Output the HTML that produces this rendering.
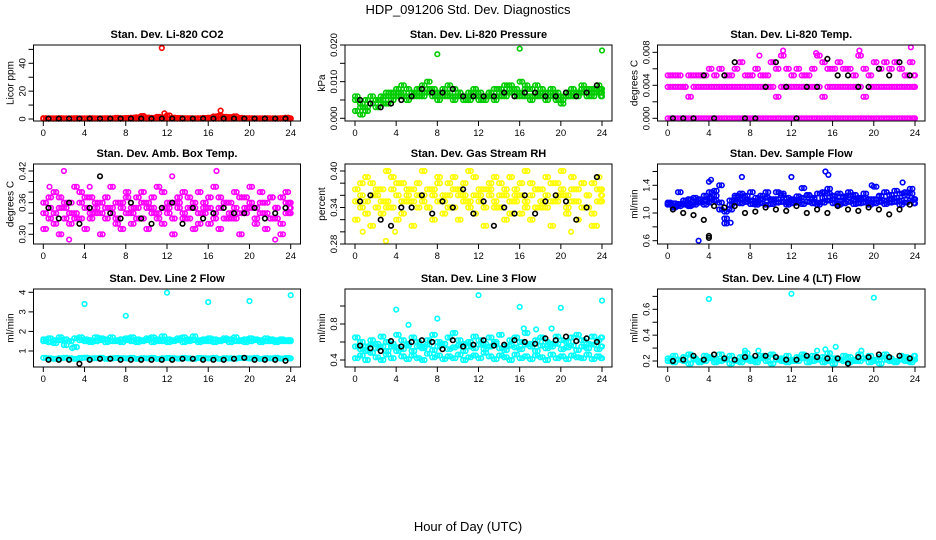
<!DOCTYPE html>
<html><head><meta charset="utf-8"><title>HDP_091206 Std. Dev. Diagnostics</title>
<style>
html,body{margin:0;padding:0;background:#fff;}
svg{display:block;font-family:"Liberation Sans",Arial,sans-serif;}
</style></head>
<body>
<svg id="chart" width="936" height="540" viewBox="0 0 936 540">
<text x="468" y="14" text-anchor="middle" font-size="13">HDP_091206  Std. Dev. Diagnostics</text>
<text x="468" y="531" text-anchor="middle" font-size="13">Hour of Day (UTC)</text>
</svg>
<script>
// ---- shared x categories ----
const hoursHalf = [0,0.5,1,1.5,2,2.5,3,3.5,4,4.5,5,5.5,6,6.5,7,7.5,8,8.5,9,9.5,10,10.5,11,11.5,12,12.5,13,13.5,14,14.5,15,15.5,16,16.5,17,17.5,18,18.5,19,19.5,20,20.5,21,21.5,22,22.5,23,23.5,24];
const hoursQuarter = [0.25,0.75,1.25,1.75,2.25,2.75,3.25,3.75,4.25,4.75,5.25,5.75,6.25,6.75,7.25,7.75,8.25,8.75,9.25,9.75,10.25,10.75,11.25,11.75,12.25,12.75,13.25,13.75,14.25,14.75,15.25,15.75,16.25,16.75,17.25,17.75,18.25,18.75,19.25,19.75,20.25,20.75,21.25,21.75,22.25,22.75,23.25,23.75,23.9];
const hoursBlack = [0.5,1.5,2.5,3.5,4.5,5.5,6.5,7.5,8.5,9.5,10.5,11.5,12.5,13.5,14.5,15.5,16.5,17.5,18.5,19.5,20.5,21.5,22.5,23.5];
const xTickLabels = ["0","4","8","12","16","20","24"];
const xTickValues = [0,4,8,12,16,20,24];

// ---- panel 1: CO2 ----
const co2A = [0.6,0.5,0.5,0.6,0.5,0.5,0.6,0.5,0.5,0.6,0.5,0.5,0.6,0.5,0.8,0.6,0.7,0.9,1.2,2.1,1.0,0.8,1.5,1.2,2.5,0.9,0.7,0.6,0.6,0.5,0.6,0.7,0.9,1.8,2.2,1.6,1.4,1.9,0.8,0.6,0.6,0.5,0.5,0.6,0.5,0.5,0.6,0.9,0.5];
const co2B = [0.2,0.3,0.2,0.2,0.3,0.2,0.2,0.3,0.2,0.2,0.3,0.2,0.2,0.3,0.2,0.2,0.3,0.2,0.2,0.3,0.2,0.2,0.3,0.2,0.2,0.3,0.2,0.2,0.3,0.2,0.2,0.3,0.2,0.2,0.3,0.2,0.2,0.3,0.2,0.2,0.3,0.2,0.2,0.3,0.2,0.2,0.3,0.2,0.2];
const co2OutX = [11.5,11.75,17.2,9.7];
const co2OutY = [51,4,6,2];
const co2Black = [0.3,0.3,0.3,0.3,0.3,0.3,0.3,0.3,0.3,0.3,0.3,0.3,0.3,0.3,0.3,0.3,0.3,0.3,0.3,0.3,0.3,0.3,0.3,0.3];

// ---- panel 2: pressure ----
const presA = [0.005,0.003,0.002,0.004,0.005,0.004,0.006,0.007,0.008,0.009,0.008,0.007,0.008,0.009,0.010,0.008,0.007,0.008,0.009,0.008,0.007,0.006,0.007,0.008,0.007,0.006,0.007,0.008,0.008,0.009,0.009,0.008,0.010,0.009,0.008,0.009,0.008,0.007,0.008,0.007,0.006,0.007,0.008,0.007,0.009,0.008,0.008,0.009,0.008];
const presB = [0.002,0.001,0.003,0.004,0.003,0.005,0.004,0.005,0.006,0.006,0.005,0.006,0.006,0.006,0.007,0.006,0.005,0.006,0.006,0.005,0.006,0.005,0.005,0.006,0.005,0.005,0.006,0.005,0.006,0.006,0.007,0.006,0.006,0.006,0.005,0.006,0.006,0.005,0.006,0.005,0.004,0.006,0.006,0.006,0.007,0.006,0.006,0.007,0.006];
const presC = [0.006,0.004,0.005,0.006,0.005,0.006,0.007,0.006,0.007,0.007,0.006,0.007,0.007,0.007,0.008,0.007,0.006,0.007,0.007,0.006,0.007,0.006,0.006,0.007,0.006,0.006,0.007,0.006,0.007,0.007,0.008,0.007,0.007,0.008,0.006,0.007,0.007,0.006,0.007,0.006,0.005,0.007,0.007,0.007,0.008,0.007,0.007,0.008,0.007];
const presOutX = [8,16,24];
const presOutY = [0.0175,0.019,0.0185];
const presBlack = [0.005,0.004,0.003,0.004,0.005,0.006,0.008,0.007,0.007,0.008,0.006,0.006,0.006,0.006,0.007,0.006,0.007,0.007,0.006,0.006,0.007,0.006,0.007,0.009];

// ---- panel 3: Li-820 temp ----
const tempA = [0,0,0,0,0,0,0,0,0,0,0,0,0,0,0,0,0,0,0,0,0,0,0,0,0,0,0,0,0,0,0,0,0,0,0,0,0,0,0,0,0,0,0,0,0,0,0,0,0];
const tempB = [0.0038,0.0038,0.0038,0.0038,0.0026,0.0038,0.0038,0.0038,0.0038,0.0038,0.0038,0.0038,0.0038,0.0038,0.0038,0.0038,0.0038,0.0038,0.0038,0.0038,0.0038,0.0026,0.0038,0.0038,0.0038,0.0038,0.0038,0.0038,0.0038,0.0038,0.0026,0.0038,0.0038,0.0038,0.0038,0.0038,0.0038,0.0038,0.0026,0.0038,0.0038,0.0038,0.0038,0.0038,0.0038,0.0038,0.0038,0.0038,0.0038];
const tempC = [0.0052,0.0052,0.0052,0.0038,0.0052,0.0052,0.0052,0.0052,0.0060,0.0052,0.0060,0.0052,0.0052,0.0060,0.0068,0.0052,0.0052,0.0060,0.0052,0.0052,0.0068,0.0060,0.0076,0.0060,0.0052,0.0060,0.0052,0.0052,0.0060,0.0076,0.0068,0.0060,0.0060,0.0068,0.0060,0.0060,0.0052,0.0076,0.0060,0.0052,0.0068,0.0060,0.0068,0.0060,0.0068,0.0060,0.0052,0.0068,0.0052];
const tempOutX = [11.2,18.6,23.6,8.9,14.4];
const tempOutY = [0.0082,0.0082,0.0086,0.0076,0.0079];
const tempBlack = [0,0,0,0.0052,0,0.0052,0.0068,0,0,0.0038,0.0068,0.0038,0,0.0038,0.0038,0.0072,0.0052,0.0052,0.0038,0.0038,0.0060,0.0052,0.0068,0.0052];

// ---- panel 4: amb box temp ----
const ambA = [0.34,0.37,0.32,0.35,0.33,0.36,0.34,0.38,0.35,0.33,0.36,0.34,0.37,0.35,0.32,0.36,0.34,0.35,0.37,0.33,0.36,0.35,0.34,0.38,0.35,0.33,0.36,0.34,0.37,0.35,0.32,0.36,0.35,0.34,0.37,0.33,0.36,0.35,0.34,0.37,0.35,0.33,0.36,0.34,0.37,0.35,0.32,0.36,0.35];
const ambB = [0.31,0.35,0.38,0.30,0.36,0.32,0.39,0.33,0.31,0.37,0.34,0.30,0.35,0.39,0.33,0.31,0.37,0.32,0.35,0.38,0.31,0.34,0.39,0.32,0.36,0.30,0.37,0.33,0.35,0.31,0.38,0.34,0.32,0.39,0.31,0.36,0.33,0.38,0.30,0.35,0.39,0.32,0.34,0.31,0.37,0.33,0.30,0.38,0.34];
const ambC = [0.36,0.33,0.34,0.37,0.35,0.34,0.33,0.36,0.37,0.34,0.35,0.36,0.33,0.34,0.36,0.35,0.38,0.34,0.33,0.36,0.35,0.37,0.33,0.35,0.34,0.36,0.35,0.38,0.33,0.36,0.34,0.35,0.37,0.33,0.35,0.36,0.34,0.33,0.37,0.34,0.36,0.35,0.38,0.36,0.33,0.35,0.37,0.34,0.36];
const ambOutX = [2,12.5,16.8,22.5,2.5,0.6,4.5];
const ambOutY = [0.42,0.41,0.42,0.29,0.29,0.39,0.39];
const ambBlack = [0.35,0.33,0.36,0.32,0.35,0.41,0.34,0.33,0.36,0.33,0.32,0.35,0.36,0.32,0.35,0.33,0.34,0.35,0.34,0.34,0.35,0.33,0.34,0.35];

// ---- panel 5: gas stream RH ----
const rhA = [0.35,0.38,0.33,0.36,0.34,0.37,0.35,0.39,0.36,0.33,0.37,0.35,0.38,0.36,0.34,0.37,0.35,0.36,0.38,0.34,0.37,0.36,0.35,0.39,0.36,0.34,0.37,0.35,0.38,0.36,0.33,0.37,0.36,0.35,0.38,0.34,0.37,0.36,0.35,0.38,0.36,0.34,0.37,0.35,0.38,0.36,0.33,0.37,0.36];
const rhB = [0.32,0.36,0.39,0.31,0.37,0.33,0.40,0.34,0.32,0.38,0.35,0.31,0.36,0.40,0.34,0.32,0.38,0.33,0.36,0.39,0.32,0.35,0.40,0.33,0.37,0.31,0.38,0.34,0.36,0.32,0.39,0.35,0.33,0.40,0.32,0.37,0.34,0.39,0.31,0.36,0.40,0.33,0.35,0.32,0.38,0.34,0.31,0.39,0.35];
const rhC = [0.37,0.34,0.35,0.38,0.36,0.35,0.34,0.37,0.38,0.35,0.36,0.37,0.34,0.35,0.37,0.36,0.39,0.35,0.34,0.37,0.36,0.38,0.34,0.36,0.35,0.37,0.36,0.39,0.34,0.37,0.35,0.36,0.38,0.34,0.36,0.37,0.35,0.34,0.38,0.35,0.37,0.36,0.39,0.37,0.34,0.36,0.38,0.35,0.37];
const rhOutX = [0.75,1.5,3,21,23.5,3.9];
const rhOutY = [0.30,0.31,0.285,0.30,0.31,0.30];
const rhBlack = [0.35,0.36,0.32,0.31,0.34,0.34,0.36,0.33,0.35,0.34,0.37,0.33,0.35,0.31,0.34,0.33,0.36,0.33,0.35,0.36,0.35,0.32,0.34,0.39];

// ---- panel 6: sample flow ----
const sfA = [1.12,1.10,1.13,1.14,1.12,1.15,1.20,1.18,1.22,1.25,1.15,0.92,1.18,1.22,1.20,1.25,1.18,1.15,1.20,1.22,1.18,1.20,1.25,1.15,1.20,1.18,1.22,1.25,1.20,1.15,1.22,1.28,1.20,1.18,1.22,1.25,1.18,1.20,1.22,1.15,1.20,1.25,1.18,1.20,1.22,1.18,1.25,1.28,1.20];
const sfB = [1.15,1.08,1.10,1.12,1.10,1.12,1.15,1.12,1.15,1.18,1.05,1.02,1.12,1.15,1.14,1.16,1.13,1.12,1.14,1.12,1.13,1.15,1.16,1.12,1.14,1.15,1.13,1.16,1.14,1.12,1.15,1.18,1.14,1.12,1.14,1.16,1.13,1.14,1.15,1.12,1.14,1.16,1.13,1.15,1.16,1.12,1.15,1.18,1.14];
const sfC = [1.13,1.14,1.30,1.18,1.20,1.22,1.15,1.25,1.30,1.32,1.40,0.85,1.05,1.25,1.28,1.20,1.30,1.22,1.25,1.30,1.20,1.30,1.28,1.22,1.18,1.24,1.36,1.26,1.22,1.28,1.30,1.35,1.25,1.28,1.24,1.30,1.26,1.22,1.28,1.20,1.38,1.24,1.30,1.26,1.32,1.28,1.30,1.35,1.20];
const sfOutX = [3,4,4.2,6.1,7.2,15.3,15.6,12,19.8,22.8];
const sfOutY = [0.6,1.45,1.48,0.86,1.52,1.6,1.55,1.52,1.4,1.44];
const sfBlack = [1.05,1.00,0.97,0.90,1.10,1.08,1.10,1.00,1.02,1.08,1.05,1.03,1.10,1.00,1.05,1.00,1.10,1.05,1.03,1.08,1.05,0.98,1.05,1.12];
const sfBlackOutX = [4,4];
const sfBlackOutY = [0.64,0.67];

// ---- panel 7: line 2 flow ----
const l2A = [1.6,1.65,1.55,1.7,1.6,1.5,1.65,1.7,1.6,1.55,1.7,1.65,1.6,1.7,1.55,1.6,1.65,1.7,1.6,1.55,1.65,1.7,1.6,1.75,1.6,1.55,1.65,1.7,1.6,1.75,1.55,1.6,1.65,1.6,1.55,1.65,1.6,1.7,1.55,1.6,1.65,1.6,1.55,1.65,1.6,1.55,1.6,1.5,1.55];
const l2B = [1.5,1.45,1.4,1.55,1.3,1.5,1.2,1.55,1.5,1.45,1.5,1.55,1.45,1.5,1.5,1.45,1.55,1.5,1.45,1.5,1.55,1.45,1.5,1.5,1.45,1.5,1.55,1.45,1.5,1.55,1.45,1.5,1.5,1.45,1.5,1.55,1.45,1.5,1.5,1.45,1.5,1.55,1.45,1.5,1.5,1.45,1.5,1.55,1.5];
const l2C = [0.65,0.62,0.6,0.63,0.65,0.62,0.6,0.64,0.66,0.62,0.63,0.65,0.6,0.62,0.64,0.63,0.62,0.65,0.6,0.63,0.62,0.65,0.6,0.62,0.64,0.63,0.61,0.65,0.62,0.6,0.64,0.63,0.62,0.65,0.6,0.63,0.62,0.61,0.64,0.63,0.62,0.65,0.6,0.63,0.62,0.65,0.61,0.64,0.62];
const l2OutX = [4,8,12,16,20,24,2.8];
const l2OutY = [3.4,2.8,3.98,3.5,3.55,3.85,1.15];
const l2Black = [0.55,0.55,0.55,0.35,0.55,0.6,0.6,0.55,0.55,0.55,0.55,0.55,0.55,0.6,0.6,0.55,0.55,0.55,0.6,0.65,0.55,0.55,0.55,0.5];

// ---- panel 8: line 3 flow ----
const l3A = [0.65,0.6,0.55,0.62,0.58,0.66,0.6,0.55,0.68,0.62,0.58,0.65,0.6,0.55,0.62,0.68,0.6,0.58,0.65,0.7,0.62,0.58,0.6,0.66,0.62,0.58,0.65,0.6,0.68,0.55,0.62,0.65,0.6,0.7,0.58,0.62,0.65,0.6,0.58,0.66,0.62,0.6,0.65,0.68,0.62,0.58,0.66,0.62,0.65];
const l3B = [0.42,0.45,0.4,0.48,0.43,0.4,0.46,0.42,0.5,0.44,0.41,0.45,0.42,0.4,0.47,0.43,0.45,0.41,0.44,0.42,0.46,0.4,0.43,0.45,0.42,0.48,0.44,0.41,0.45,0.43,0.4,0.46,0.42,0.44,0.41,0.45,0.43,0.4,0.46,0.42,0.44,0.41,0.45,0.43,0.42,0.46,0.41,0.44,0.42];
const l3C = [0.55,0.52,0.5,0.57,0.53,0.55,0.5,0.58,0.54,0.52,0.56,0.5,0.55,0.53,0.57,0.51,0.55,0.58,0.52,0.54,0.56,0.5,0.55,0.53,0.57,0.52,0.55,0.58,0.53,0.51,0.56,0.54,0.52,0.57,0.55,0.5,0.56,0.53,0.55,0.58,0.52,0.54,0.56,0.51,0.55,0.53,0.57,0.52,0.55];
const l3OutX = [4,5.2,8,12,16,20,24,16.4,17.6,19.1];
const l3OutY = [0.96,0.79,0.86,1.12,0.99,0.98,1.06,0.75,0.74,0.75];
const l3Black = [0.56,0.53,0.5,0.61,0.55,0.6,0.62,0.6,0.52,0.62,0.55,0.57,0.62,0.56,0.57,0.62,0.6,0.58,0.64,0.62,0.66,0.61,0.64,0.6];

// ---- panel 9: line 4 flow ----
const l4A = [0.22,0.24,0.21,0.23,0.25,0.22,0.2,0.24,0.23,0.21,0.25,0.22,0.24,0.2,0.23,0.26,0.22,0.21,0.24,0.23,0.25,0.21,0.22,0.24,0.2,0.23,0.25,0.22,0.24,0.21,0.23,0.26,0.22,0.21,0.24,0.23,0.2,0.25,0.22,0.24,0.21,0.23,0.25,0.22,0.2,0.24,0.23,0.21,0.24];
const l4B = [0.2,0.19,0.21,0.2,0.18,0.21,0.19,0.2,0.22,0.19,0.2,0.21,0.18,0.2,0.19,0.21,0.2,0.19,0.22,0.2,0.18,0.21,0.2,0.19,0.21,0.2,0.22,0.19,0.2,0.21,0.19,0.2,0.18,0.21,0.2,0.19,0.21,0.2,0.22,0.19,0.2,0.18,0.21,0.2,0.19,0.21,0.2,0.19,0.21];
const l4OutX = [4,12,20,14.5,15.3,16.3,7.5,8.8,18.8];
const l4OutY = [0.68,0.72,0.69,0.28,0.29,0.31,0.28,0.28,0.28];
const l4Black = [0.2,0.21,0.24,0.21,0.25,0.22,0.21,0.23,0.24,0.24,0.23,0.21,0.21,0.24,0.23,0.22,0.22,0.18,0.23,0.23,0.25,0.23,0.24,0.22];

// ---- layout (pixels) ----
const cols = [{l:33.5,r:300.5,x0:43.3,x24:290.7},{l:345,r:612,x0:355,x24:602},{l:657.5,r:925,x0:667.7,x24:915}];
const rows = [{t:45,b:121},{t:164,b:244},{t:289,b:367}];
const NS = 'http://www.w3.org/2000/svg';
const svg = document.getElementById('chart');

const panels = [
 {name:'co2',title:'Stan. Dev. Li-820 CO2',ylab:'Licor ppm',c:0,r:0,color:'#ff0000',cal:[0,119,40,63.3],
  ticks:[0,10,20,30,40,50],labels:{0:'0',20:'20',40:'40'},
  series:[[hoursHalf,co2B],[hoursQuarter,co2B],[hoursHalf,co2A],[hoursQuarter,co2A],[co2OutX,co2OutY]],black:[[hoursBlack,co2Black]]},
 {name:'pressure',title:'Stan. Dev. Li-820 Pressure',ylab:'kPa',c:1,r:0,color:'#00cc00',cal:[0,118.3,0.02,45],
  ticks:[0,0.005,0.01,0.015,0.02],labels:{0:'0.000',0.01:'0.010',0.02:'0.020'},
  series:[[hoursHalf,presA],[hoursQuarter,presC],[hoursHalf,presB],[hoursQuarter,presB],[hoursHalf,presC],[hoursQuarter,presA],[presOutX,presOutY]],black:[[hoursBlack,presBlack]]},
 {name:'li820-temp',title:'Stan. Dev. Li-820 Temp.',ylab:'degrees C',c:2,r:0,color:'#ff00ff',cal:[0,118.3,0.008,52.3],
  ticks:[0,0.002,0.004,0.006,0.008],labels:{0:'0.000',0.004:'0.004',0.008:'0.008'},
  series:[[hoursHalf,tempA],[hoursQuarter,tempA],[hoursHalf,tempB],[hoursQuarter,tempB],[hoursHalf,tempC],[hoursQuarter,tempC],[tempOutX,tempOutY]],black:[[hoursBlack,tempBlack]]},
 {name:'amb-box-temp',title:'Stan. Dev. Amb. Box Temp.',ylab:'degrees C',c:0,r:1,color:'#ff00ff',cal:[0.30,234.3,0.42,171],
  ticks:[0.30,0.32,0.34,0.36,0.38,0.40,0.42],labels:{0.3:'0.30',0.36:'0.36',0.42:'0.42'},
  series:[[hoursHalf,ambA],[hoursHalf,ambB],[hoursHalf,ambC],[hoursQuarter,ambC],[hoursQuarter,ambA],[hoursQuarter,ambB],[ambOutX,ambOutY]],black:[[hoursBlack,ambBlack]]},
 {name:'gas-stream-rh',title:'Stan. Dev. Gas Stream RH',ylab:'percent',c:1,r:1,color:'#ffff00',cal:[0.28,244,0.40,171],
  ticks:[0.28,0.30,0.32,0.34,0.36,0.38,0.40],labels:{0.28:'0.28',0.34:'0.34',0.4:'0.40'},
  series:[[hoursHalf,rhA],[hoursHalf,rhB],[hoursHalf,rhC],[hoursQuarter,rhC],[hoursQuarter,rhA],[hoursQuarter,rhB],[rhOutX,rhOutY]],black:[[hoursBlack,rhBlack]]},
 {name:'sample-flow',title:'Stan. Dev. Sample Flow',ylab:'ml/min',c:2,r:1,color:'#0000ff',cal:[0.6,240.7,1.4,185.3],
  ticks:[0.6,0.8,1.0,1.2,1.4,1.6],labels:{0.6:'0.6',1:'1.0',1.4:'1.4'},
  series:[[hoursHalf,sfB],[hoursQuarter,sfB],[hoursHalf,sfA],[hoursQuarter,sfA],[hoursHalf,sfC],[hoursQuarter,sfC],[sfOutX,sfOutY]],black:[[hoursBlack,sfBlack],[sfBlackOutX,sfBlackOutY]]},
 {name:'line2-flow',title:'Stan. Dev. Line 2 Flow',ylab:'ml/min',c:0,r:2,color:'#00ffff',cal:[1,351,4,292.3],
  ticks:[1,2,3,4],labels:{1:'1',2:'2',3:'3',4:'4'},
  series:[[hoursHalf,l2A],[hoursQuarter,l2A],[hoursHalf,l2B],[hoursQuarter,l2B],[hoursHalf,l2C],[hoursQuarter,l2C],[l2OutX,l2OutY]],black:[[hoursBlack,l2Black]]},
 {name:'line3-flow',title:'Stan. Dev. Line 3 Flow',ylab:'ml/min',c:1,r:2,color:'#00ffff',cal:[0.4,360,0.8,324],
  ticks:[0.4,0.6,0.8,1.0],labels:{0.4:'0.4',0.8:'0.8'},
  series:[[hoursHalf,l3A],[hoursQuarter,l3A],[hoursHalf,l3B],[hoursQuarter,l3B],[hoursHalf,l3C],[hoursQuarter,l3C],[l3OutX,l3OutY]],black:[[hoursBlack,l3Black]]},
 {name:'line4-flow',title:'Stan. Dev. Line 4 (LT) Flow',ylab:'ml/min',c:2,r:2,color:'#00ffff',cal:[0.2,361,0.6,309.3],
  ticks:[0.2,0.3,0.4,0.5,0.6,0.7],labels:{0.2:'0.2',0.4:'0.4',0.6:'0.6'},
  series:[[hoursHalf,l4A],[hoursQuarter,l4A],[hoursHalf,l4B],[hoursQuarter,l4B],[l4OutX,l4OutY]],black:[[hoursBlack,l4Black]]}
];

function mk(tag, attrs, parent){
  const e = document.createElementNS(NS, tag);
  for (const k in attrs) e.setAttribute(k, attrs[k]);
  parent.appendChild(e);
  return e;
}

panels.forEach(p => {
  const col = cols[p.c], row = rows[p.r];
  const xs = v => col.x0 + (col.x24 - col.x0) * v / 24;
  const ys = v => p.cal[1] + (v - p.cal[0]) * (p.cal[3] - p.cal[1]) / (p.cal[2] - p.cal[0]);
  const g = mk('g', {}, svg);
  
  

  const title = mk('text', {x:(col.l+col.r)/2, y:row.t-7, 'text-anchor':'middle', 'font-size':'11', 'font-weight':'bold'}, g);
  title.textContent = p.title;
  
  

  const pts = mk('g', {fill:'none', 'stroke-width':'1.6'}, g);
  
  
  p.series.forEach(s => {
    s[1].forEach((v, i) => {
      const c = mk('circle', {cx:xs(s[0][i]).toFixed(1), cy:ys(v).toFixed(1), r:'2.3', stroke:p.color}, pts);
      
      
    });
  });
  p.black.forEach(s => {
    s[1].forEach((v, i) => {
      const c = mk('circle', {cx:xs(s[0][i]).toFixed(1), cy:ys(v).toFixed(1), r:'2.3', stroke:'#000'}, pts);
      
      
    });
  });

  const box = mk('rect', {x:col.l, y:row.t, width:col.r-col.l, height:row.b-row.t, fill:'none', stroke:'#000', 'stroke-width':'1'}, g);
  
  

  const xa = mk('g', {}, g);
  
  
  xTickValues.forEach((v, i) => {
    const x = xs(v);
    mk('line', {x1:x, x2:x, y1:row.b, y2:row.b+5, stroke:'#000'}, xa);
    const t = mk('text', {x:x, y:row.b+15, 'text-anchor':'middle', 'font-size':'9.5'}, xa);
    t.textContent = xTickLabels[i];
    
    
  });

  const ya = mk('g', {}, g);
  
  
  p.ticks.forEach(v => {
    const y = ys(v);
    mk('line', {x1:col.l, x2:col.l-5, y1:y, y2:y, stroke:'#000'}, ya);
    const key = Object.keys(p.labels).find(k => Math.abs(parseFloat(k) - v) < 1e-9);
    if (key !== undefined) {
      const tx = col.l - 8;
      const t = mk('text', {x:tx, y:y, 'text-anchor':'middle', 'font-size':'9.5', transform:`rotate(-90 ${tx} ${y})`}, ya);
      t.textContent = p.labels[key];
      
      
    }
  });
  const lx = col.l - 20, ly = (row.t + row.b) / 2;
  const yl = mk('text', {x:lx, y:ly, 'text-anchor':'middle', 'font-size':'10', transform:`rotate(-90 ${lx} ${ly})`}, g);
  yl.textContent = p.ylab;
  
  
});
</script>
</body></html>
